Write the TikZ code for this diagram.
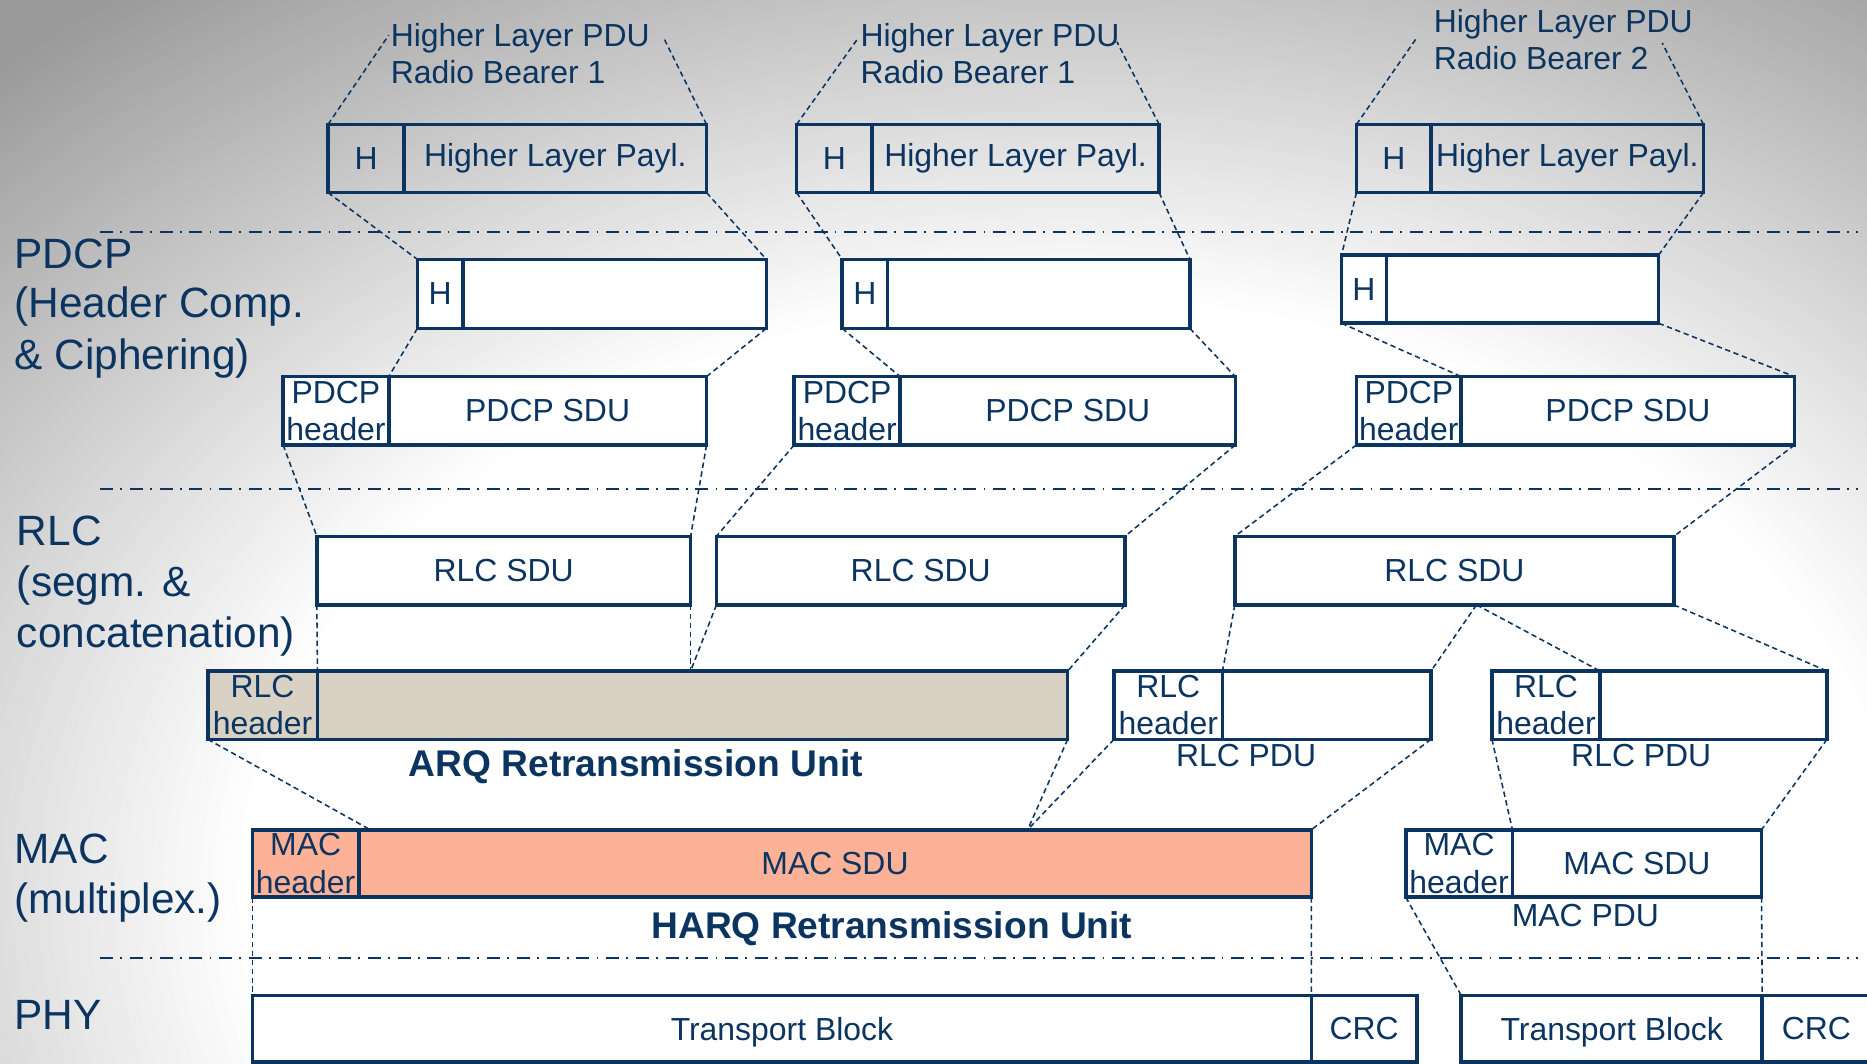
\documentclass[tikz,border=0pt]{standalone}
\usepackage{fontspec}
\setmainfont{Liberation Sans}
\definecolor{navyc}{RGB}{11,53,96}
\definecolor{beigec}{RGB}{217,209,196}
\definecolor{salmonc}{RGB}{253,177,150}
\definecolor{bggray}{RGB}{154,154,154}
\newcommand\fsz{\fontsize{26.8pt}{31.5pt}\selectfont}
\newcommand\flg{\fontsize{35.6pt}{43pt}\selectfont}
\newcommand\fbd{\fontsize{31.2pt}{36pt}\selectfont\bfseries}
\tikzset{
  box/.style={draw=navyc, line width=3pt, inner sep=0pt, outer sep=0pt, text=navyc, font=\fsz, align=center},
  wbox/.style={box, fill=white},
  conn/.style={draw=navyc, line width=1.3pt, dash pattern=on 4.5pt off 3pt},
  sepline/.style={draw=navyc, line width=1.6pt, dash pattern=on 11pt off 6pt on 1.5pt off 6.5pt},
  lbl/.style={text=navyc, inner sep=0pt, font=\fsz, anchor=base west},
  clbl/.style={text=navyc, inner sep=0pt, font=\fsz, anchor=base},
  layer/.style={text=navyc, inner sep=0pt, font=\flg, anchor=base west},
  boldlbl/.style={text=navyc, inner sep=0pt, font=\fbd, anchor=base},
}
\newcommand\pdubox[7][]{%
  \pgfmathsetmacro\bxw{#5-#3}%
  \pgfmathsetmacro\bxh{#6-#4}%
  \pgfmathsetmacro\bxcx{(#3+#5)/2}%
  \pgfmathsetmacro\bxcy{(#4+#6)/2}%
  \node[box,minimum width=\bxw pt,minimum height=\bxh pt,#1] (#2) at (\bxcx,\bxcy) {#7};}
\begin{document}
\begin{tikzpicture}[x=1pt,y=-1pt]
\useasboundingbox (0,0) rectangle (1568,893.6);
\begin{scope}
\clip (0,0) rectangle (1568,893.6);
% background gradient (stepped ellipses)
\fill[bggray] (0,0) rectangle (1568,893.6);
\foreach \k in {0,...,60} {
  \pgfmathsetmacro\rr{950-\k*7.5}
  \pgfmathsetmacro\rx{1.4*\rr}
  \pgfmathsetmacro\pp{(\rr-500)/4.5}
  \fill[bggray!\pp!white] (900,750) ellipse [x radius=\rx pt, y radius=\rr pt];
}

% separators
\coordinate (s1a) at (84,195.1); \coordinate (s1b) at (1560,195.1);
\coordinate (s2a) at (84,410.6); \coordinate (s2b) at (1560,410.6);
\coordinate (s3a) at (84,804.6); \coordinate (s3b) at (1560,804.6);
\draw[sepline] (s1a) -- (s1b);
\draw[sepline] (s2a) -- (s2b);
\draw[sepline] (s3a) -- (s3b);

% layer labels
\node[layer] (lpdcp1) at (12,225.3) {PDCP};
\node[layer] (lpdcp2) at (12,267) {(Header Comp.};
\node[layer] (lpdcp3) at (12,310.5) {\& Ciphering)};
\node[layer] (lrlc1) at (14,458) {RLC};
\node[layer] (lrlc2) at (14,501) {(segm. \&};
\node[layer] (lrlc3) at (14,544) {concatenation)};
\node[layer] (lmac1) at (12,725.4) {MAC};
\node[layer] (lmac2) at (12,767.5) {(multiplex.)};
\node[layer] (lphy) at (12,864.4) {PHY};

% top labels
\node[lbl] (t1a) at (328,39.2) {Higher Layer PDU};
\node[lbl] (t1b) at (328,70.5) {Radio Bearer 1};
\node[lbl] (t2a) at (722.5,39.2) {Higher Layer PDU};
\node[lbl] (t2b) at (722.5,70.5) {Radio Bearer 1};
\node[lbl] (t3a) at (1204,27.2) {Higher Layer PDU};
\node[lbl] (t3b) at (1204,58.2) {Radio Bearer 2};

% boxes
\pdubox{hl1h}{275.5}{104.5}{339.4}{161.8}{H}
\pdubox{hl1b}{339.4}{104.5}{593.4}{161.8}{Higher Layer Payl.}
\pdubox{hl2h}{669}{104.5}{732.4}{161.8}{H}
\pdubox{hl2b}{732.4}{104.5}{973.5}{161.8}{Higher Layer Payl.}
\pdubox{hl3h}{1139.2}{104.5}{1202}{161.8}{H}
\pdubox{hl3b}{1202}{104.5}{1430.6}{161.8}{Higher Layer Payl.}

\pdubox[wbox]{ph1h}{350.5}{217.8}{389}{275.8}{H}
\pdubox[wbox]{ph1b}{389}{217.8}{643.6}{275.8}{}
\pdubox[wbox]{ph2h}{707.3}{217.8}{745.5}{275.8}{H}
\pdubox[wbox]{ph2b}{745.5}{217.8}{999.3}{275.8}{}
\pdubox[wbox]{ph3h}{1126.7}{214.2}{1164.4}{271.5}{H}
\pdubox[wbox]{ph3b}{1164.4}{214.2}{1393}{271.5}{}

\pdubox[wbox]{pp1h}{237.8}{316.3}{326.5}{373.7}{PDCP\\header}
\pdubox[wbox]{pp1b}{326.5}{316.3}{593.4}{373.7}{PDCP SDU}
\pdubox[wbox]{pp2h}{667}{316.3}{756}{373.7}{PDCP\\header}
\pdubox[wbox]{pp2b}{756}{316.3}{1037.5}{373.7}{PDCP SDU}
\pdubox[wbox]{pp3h}{1139.2}{316.3}{1227.2}{373.7}{PDCP\\header}
\pdubox[wbox]{pp3b}{1227.2}{316.3}{1507.2}{373.7}{PDCP SDU}

\pdubox[wbox]{rs1}{266.1}{450.4}{580}{508}{RLC SDU}
\pdubox[wbox]{rs2}{601.7}{450.4}{944.9}{508}{RLC SDU}
\pdubox[wbox]{rs3}{1037.1}{450.4}{1405.8}{508}{RLC SDU}

\pdubox[box,fill=beigec]{arqh}{174.5}{563.6}{266.6}{620.9}{RLC\\header}
\pdubox[box,fill=beigec]{arqb}{266.6}{563.6}{896.7}{620.9}{}
\pdubox[wbox]{rp2h}{935.6}{563.6}{1026.7}{620.9}{RLC\\header}
\pdubox[wbox]{rp2b}{1026.7}{563.6}{1201.8}{620.9}{}
\pdubox[wbox]{rp3h}{1253}{563.6}{1343.8}{620.9}{RLC\\header}
\pdubox[wbox]{rp3b}{1343.8}{563.6}{1534.4}{620.9}{}

\pdubox[box,fill=salmonc]{mac1h}{212.1}{696.9}{301.3}{753.5}{MAC\\header}
\pdubox[box,fill=salmonc]{mac1b}{301.3}{696.9}{1101.3}{753.5}{MAC SDU}
\pdubox[wbox]{mac2h}{1180.6}{696.9}{1270.2}{753.5}{MAC\\header}
\pdubox[wbox]{mac2b}{1270.2}{696.9}{1479.4}{753.5}{MAC SDU}

\pdubox[wbox,text depth=0pt]{tb1}{212.1}{836}{1101.3}{892}{Transport Block}
\pdubox[wbox]{crc1}{1101.3}{836}{1189.9}{892}{CRC}
\pdubox[wbox,text depth=0pt]{tb2}{1227.2}{836}{1480}{892}{Transport Block}
\pdubox[wbox]{crc2}{1480}{836}{1571}{892}{CRC}

% labels under boxes
\node[boldlbl] (arqlbl) at (534,652) {ARQ Retransmission Unit};
\node[boldlbl] (harqlbl) at (749,788.5) {HARQ Retransmission Unit};
\node[clbl] (rpdu2) at (1046.5,643.5) {RLC PDU};
\node[clbl] (rpdu3) at (1378.4,643.5) {RLC PDU};
\node[clbl] (mpdu2) at (1331.5,778.4) {MAC PDU};

% free ends
\coordinate (e1l) at (326.5,29.5);
\coordinate (e1r) at (557,31);
\coordinate (e2l) at (720,33);
\coordinate (e2r) at (938,35);
\coordinate (e3l) at (1189,33);
\coordinate (e3r) at (1396,36);
\coordinate (arqm) at (580,563.6);
\coordinate (rs3m) at (1240,508);
\coordinate (macm) at (863,696.9);
\coordinate (mach) at (311,696.9);

% connectors
\draw[conn] (hl1h.north west) -- (e1l);
\draw[conn] (hl1b.north east) -- (e1r);
\draw[conn] (hl2h.north west) -- (e2l);
\draw[conn] (hl2b.north east) -- (e2r);
\draw[conn] (hl3h.north west) -- (e3l);
\draw[conn] (hl3b.north east) -- (e3r);

\draw[conn] (hl1h.south west) -- (ph1h.north west);
\draw[conn] (hl1b.south east) -- (ph1b.north east);
\draw[conn] (hl2h.south west) -- (ph2h.north west);
\draw[conn] (hl2b.south east) -- (ph2b.north east);
\draw[conn] (hl3h.south west) -- (ph3h.north west);
\draw[conn] (hl3b.south east) -- (ph3b.north east);

\draw[conn] (ph1h.south west) -- (pp1h.north east);
\draw[conn] (ph1b.south east) -- (pp1b.north east);
\draw[conn] (ph2h.south west) -- (pp2h.north east);
\draw[conn] (ph2b.south east) -- (pp2b.north east);
\draw[conn] (ph3h.south west) -- (pp3h.north east);
\draw[conn] (ph3b.south east) -- (pp3b.north east);

\draw[conn] (pp1h.south west) -- (rs1.north west);
\draw[conn] (pp1b.south east) -- (rs1.north east);
\draw[conn] (pp2h.south west) -- (rs2.north west);
\draw[conn] (pp2b.south east) -- (rs2.north east);
\draw[conn] (pp3h.south west) -- (rs3.north west);
\draw[conn] (pp3b.south east) -- (rs3.north east);

\draw[conn] (rs1.south west) -- (arqh.north east);
\draw[conn] (rs1.south east) -- (arqm);
\draw[conn] (rs2.south west) -- (arqm);
\draw[conn] (rs2.south east) -- (arqb.north east);
\draw[conn] (rs3.south west) -- (rp2h.north east);
\draw[conn] (rs3m) -- (rp2b.north east);
\draw[conn] (rs3m) -- (rp3h.north east);
\draw[conn] (rs3.south east) -- (rp3b.north east);

\draw[conn] (arqh.south west) -- (mach);
\draw[conn] (arqb.south east) -- (macm);
\draw[conn] (rp2h.south west) -- (macm);
\draw[conn] (rp2b.south east) -- (mac1b.north east);
\draw[conn] (rp3h.south west) -- (mac2h.north east);
\draw[conn] (rp3b.south east) -- (mac2b.north east);

\draw[conn] (mac1h.south west) -- (tb1.north west);
\draw[conn] (mac1b.south east) -- (tb1.north east);
\draw[conn] (mac2h.south west) -- (tb2.north west);
\draw[conn] (mac2b.south east) -- (tb2.north east);
\end{scope}
\end{tikzpicture}
\end{document}
